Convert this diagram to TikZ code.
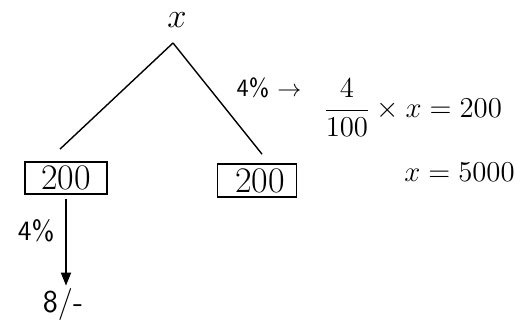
\documentclass[tikz,border=0pt]{standalone}
\usetikzlibrary{arrows.meta,calc}
\tikzset{
  >=Latex,
  valbox/.style={draw,line width=0.9pt,minimum width=41pt,minimum height=16pt,inner sep=0pt,font=\fontsize{18}{18}\selectfont},
  branch/.style={line width=0.7pt},
  down/.style={-{Triangle[width=5pt,length=6.5pt]},line width=0.9pt},
  pct/.style={font=\sffamily\fontsize{14}{14}\selectfont},
  eqn/.style={font=\fontsize{14}{16}\selectfont,inner sep=0pt},
}

\begin{document}
\begin{tikzpicture}[x=0.5pt,y=-0.5pt]
  \useasboundingbox (0,0) rectangle (528,320);
  % tree
  \node[font=\fontsize{18}{18}\selectfont] (top) at (177,20) {$x$};
  \coordinate (apex) at ($(top)+(-4,23)$);
  \node[valbox] (lb) at (66,178) {200};
  \node[valbox,minimum width=39.5pt,minimum height=16.5pt] (rb) at (257,180.5) {\,200};
  \node[font=\sffamily\fontsize{16}{16}\selectfont,inner sep=1pt] (amt) at (63,304) {8/-};
  \draw[branch] (apex) -- ($(lb.north)+(-6,-12)$);
  \draw[branch] (apex) -- ($(rb.north)+(5,-9)$);
  \draw[down,shorten <=2pt] (lb.south) -- (lb.south |- amt.north) node[pos=0.4,left=2pt,pct] {4\%};
  % working
  \node[font=\sffamily\fontsize{12.5}{12.5}\selectfont] (rate) at (269,88) {4\% $\rightarrow$};
  \node[eqn,anchor=west] (eq1) at (323,108) {$\displaystyle\frac{4}{100}\times x = 200$};
  \node[eqn,anchor=west] (eq2) at (404,172) {$x = 5000$};
\end{tikzpicture}
\end{document}
